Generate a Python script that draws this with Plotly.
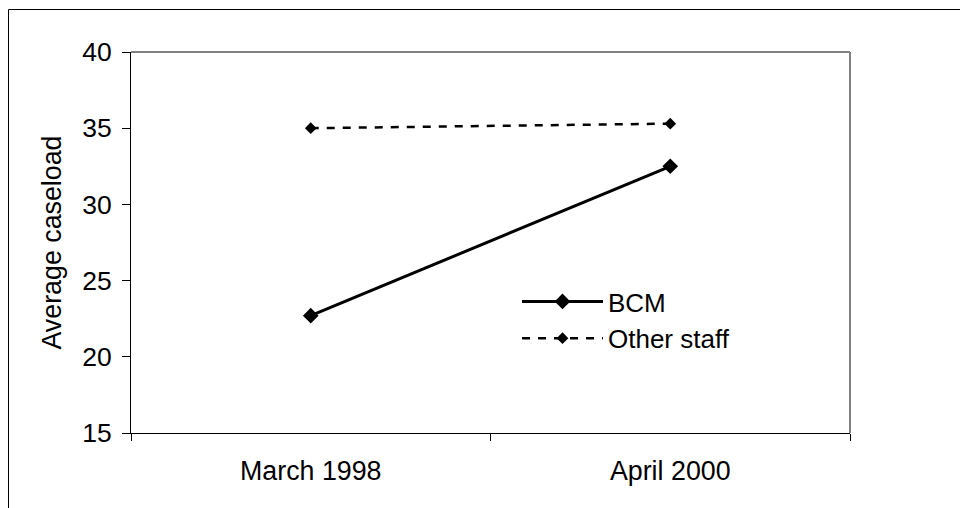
import plotly.graph_objects as go

categories = ["March 1998", "April 2000"]
bcm = [22.7, 32.5]
other_staff = [35.0, 35.3]
y_ticks = [15, 20, 25, 30, 35, 40]

FONT = "Liberation Sans, Arial, sans-serif"

W, H = 960, 508
# plot area in page pixels
L, R, T, B = 131, 850, 52, 433
def px(x):
    return (x - L) / (R - L)
def py(y):
    return (B - y) / (B - T)

fig = go.Figure()
fig.add_trace(go.Scatter(
    x=categories, y=bcm, name="BCM", mode="lines+markers",
    line=dict(color="black", width=3),
    marker=dict(symbol="diamond", size=12, color="black"),
))
fig.add_trace(go.Scatter(
    x=categories, y=other_staff, name="Other staff", mode="lines+markers",
    line=dict(color="black", width=2.5, dash="8px,8px"),
    marker=dict(symbol="diamond", size=9, color="black"),
))

fig.update_layout(
    width=W, height=H,
    margin=dict(l=L, r=W - R, t=T, b=H - B, pad=0),
    paper_bgcolor="white", plot_bgcolor="white",
    font=dict(family=FONT, size=26, color="black"),
    showlegend=True,
    legend=dict(
        x=px(517), y=py(278), xanchor="left", yanchor="top",
        bgcolor="rgba(0,0,0,0)", borderwidth=0,
        itemwidth=81, font=dict(size=26, family=FONT, color="black"),
        tracegroupgap=0,
    ),
    xaxis=dict(
        type="category", range=[-0.5, 1.5],
        showgrid=False, zeroline=False,
        showline=True, linecolor="black", linewidth=1,
        ticks="outside", ticklen=7, tickcolor="black", tickwidth=1,
        tickson="boundaries", ticklabelstandoff=14,
        tickfont=dict(size=26.8, family=FONT, color="black"),
    ),
    yaxis=dict(
        range=[15, 40], tickvals=y_ticks,
        showgrid=False, zeroline=False,
        showline=True, linecolor="black", linewidth=1,
        ticks="outside", ticklen=8, tickcolor="black", tickwidth=1,
        ticklabelstandoff=5,
        tickfont=dict(size=26.5, family=FONT, color="black"),
        title=dict(text="Average caseload", standoff=12,
                   font=dict(size=26.8, family=FONT, color="black")),
    ),
    shapes=[
        # gray top and right plot frame
        dict(type="line", xref="paper", yref="paper", x0=0, x1=1, y0=1, y1=1,
             line=dict(color="#808080", width=2)),
        dict(type="line", xref="paper", yref="paper", x0=1, x1=1, y0=0, y1=1,
             line=dict(color="#808080", width=2)),
        # outer chart border (top and left edges)
        dict(type="line", xref="paper", yref="paper", x0=px(8.5), x1=px(975), y0=py(9.5), y1=py(9.5),
             line=dict(color="black", width=1)),
        dict(type="line", xref="paper", yref="paper", x0=px(8.5), x1=px(8.5), y0=py(9.5), y1=py(520),
             line=dict(color="black", width=1)),
    ],
)

fig.write_html(
    "out.html",
    config={"displayModeBar": False},
    post_script="document.body.style.margin='0';document.body.style.overflow='hidden';",
)
